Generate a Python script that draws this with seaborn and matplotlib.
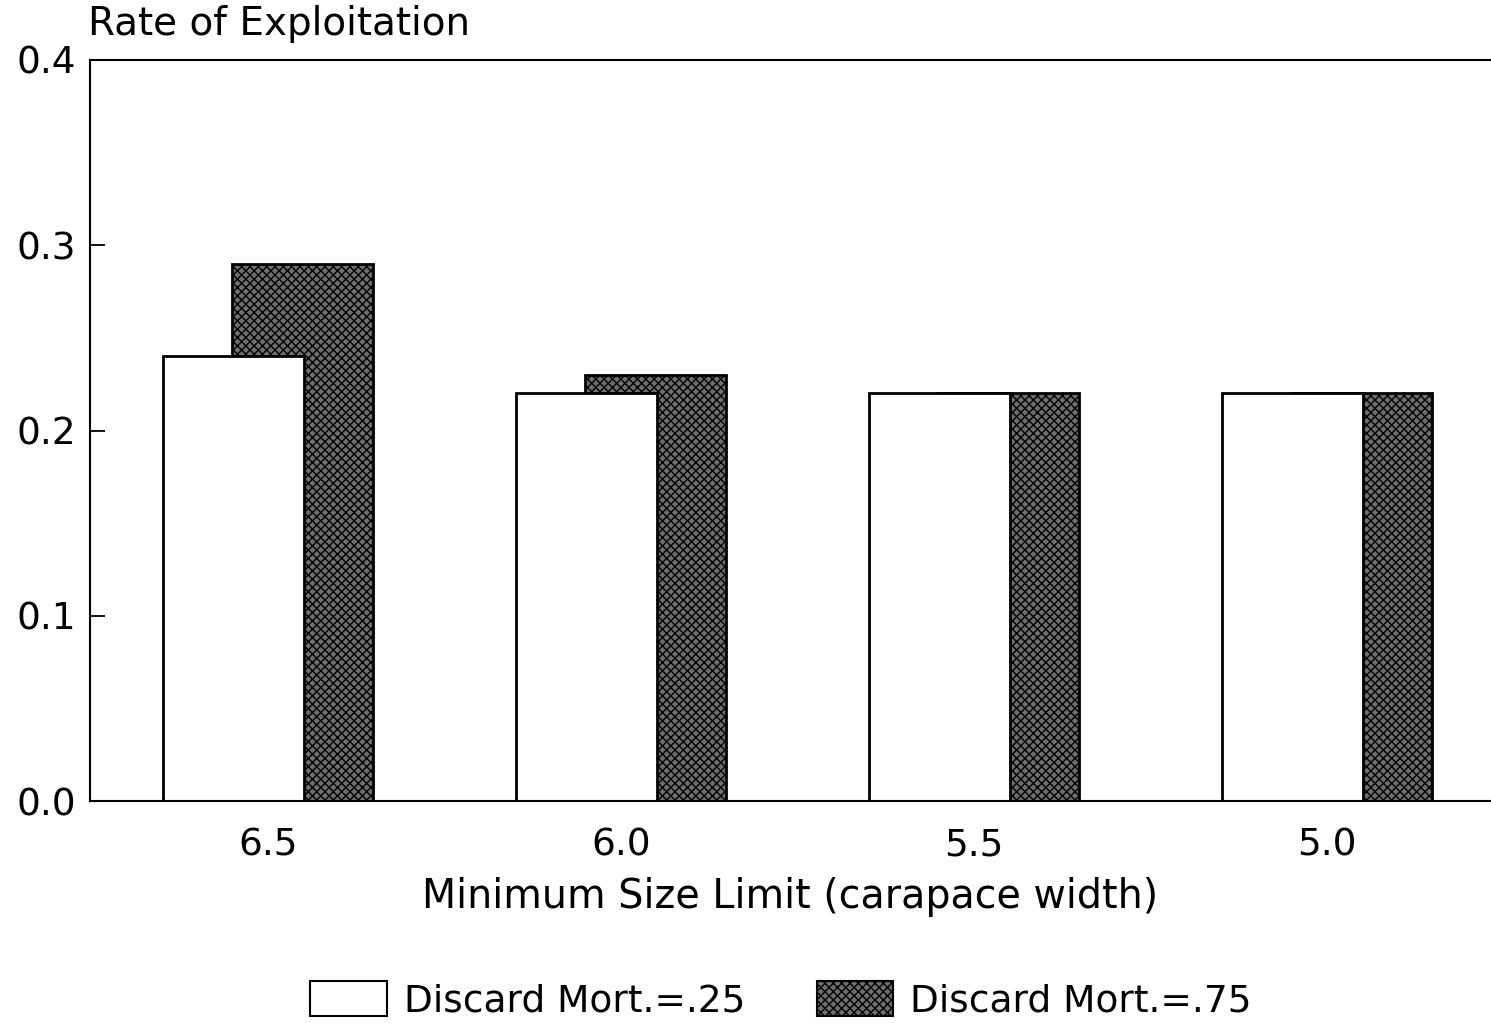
import pandas as pd
import seaborn as sns
import matplotlib.pyplot as plt

sizes = ["6.5", "6.0", "5.5", "5.0"]
mort_25 = [0.24, 0.22, 0.22, 0.22]
mort_75 = [0.29, 0.23, 0.22, 0.22]
y_ticks = [0.0, 0.1, 0.2, 0.3, 0.4]

df = pd.DataFrame({"size": sizes, "m25": mort_25, "m75": mort_75})

sns.set_style("ticks")
plt.rcParams['font.family'] = ['DejaVu Sans']
plt.rcParams['text.color'] = 'black'
plt.rcParams['axes.labelcolor'] = 'black'
plt.rcParams['hatch.linewidth'] = 1.0

dark = "#6e6e6e"

fig = plt.figure(figsize=(14.91, 10.23), dpi=100)
ax = fig.add_axes([90/1491, 222/1023, 1 - 90/1491, 741/1023])

# dark bars behind, white bars in front, overlapping
sns.barplot(data=df, x="size", y="m75", order=sizes, width=0.4,
            color=dark, edgecolor="black", linewidth=2, hatch="xxxx",
            ax=ax)
sns.barplot(data=df, x="size", y="m25", order=sizes, width=0.4,
            color="white", edgecolor="black", linewidth=2, ax=ax)

off = 0.098
for p in ax.containers[0]:
    p.set_x(p.get_x() + off)
for p in ax.containers[1]:
    p.set_x(p.get_x() - off)
    p.set_facecolor("white")

ax.set_xlim(-0.504, 3.465)
ax.set_ylim(0, 0.4)
ax.set_yticks(y_ticks)
ax.set_yticklabels([f"{v:.1f}" for v in y_ticks])
ax.tick_params(axis="both", direction="in", length=11, width=1.3,
               labelsize=27, colors="black")
ax.tick_params(axis="y", pad=10)
ax.tick_params(axis="x", pad=19)
ax.set_ylabel("")
ax.set_xlabel("Minimum Size Limit (carapace width)", fontsize=28.5, labelpad=10)
for s in ["left", "top", "bottom"]:
    ax.spines[s].set_linewidth(1.5)
    ax.spines[s].set_color("black")
ax.spines["right"].set_visible(False)

fig.text(88/1491, 1 - 24/1023, "Rate of Exploitation", fontsize=28,
         ha="left", va="center")

h1 = plt.Rectangle((0, 0), 1, 1, facecolor="white", edgecolor="black", linewidth=1.5)
h2 = plt.Rectangle((0, 0), 1, 1, facecolor=dark, edgecolor="black",
                   linewidth=1.5, hatch="xxxx")
fig.legend([h1, h2], ["Discard Mort.=.25", "Discard Mort.=.75"],
           loc="center", bbox_to_anchor=(781/1491, 1 - 1000/1023),
           ncol=2, frameon=False, fontsize=27, handlelength=2.05,
           handleheight=1.05, handletextpad=0.45, columnspacing=1.9)

fig.savefig("out.png", dpi=100, facecolor="white")
